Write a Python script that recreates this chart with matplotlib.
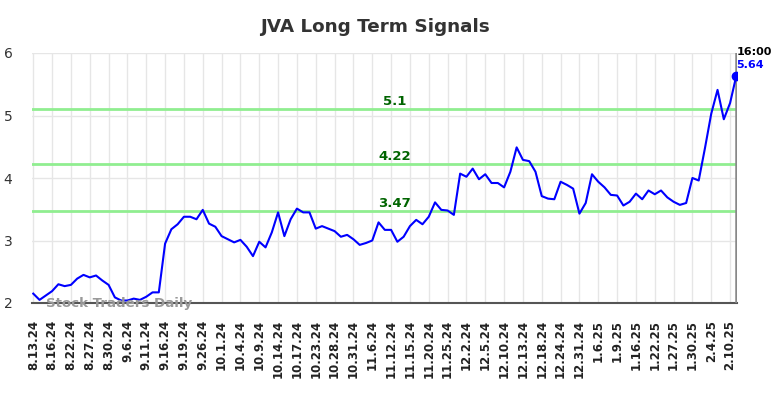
import matplotlib
matplotlib.use("Agg")
import matplotlib.pyplot as plt
import numpy as np

# valores (un punto por sesion)
prices = [
    2.15, 2.05, 2.12, 2.19, 2.30, 2.27, 2.29, 2.39, 2.45, 2.41,
    2.44, 2.36, 2.29, 2.09, 2.04, 2.04, 2.07, 2.05, 2.10, 2.17,
    2.17, 2.95, 3.18, 3.26, 3.38, 3.38, 3.34, 3.49, 3.27, 3.22,
    3.07, 3.02, 2.97, 3.01, 2.90, 2.75, 2.98, 2.89, 3.13, 3.45,
    3.07, 3.34, 3.51, 3.45, 3.45, 3.19, 3.23, 3.19, 3.15, 3.06,
    3.09, 3.02, 2.93, 2.96, 3.00, 3.29, 3.17, 3.17, 2.98, 3.06,
    3.23, 3.33, 3.26, 3.38, 3.61, 3.49, 3.48, 3.41, 4.07, 4.02,
    4.15, 3.98, 4.06, 3.92, 3.92, 3.85, 4.10, 4.49, 4.29, 4.27,
    4.10, 3.71, 3.67, 3.66, 3.94, 3.89, 3.83, 3.43, 3.60, 4.06,
    3.94, 3.85, 3.73, 3.72, 3.56, 3.62, 3.75, 3.66, 3.80, 3.74,
    3.80, 3.69, 3.62, 3.57, 3.60, 4.00, 3.96, 4.48, 5.03, 5.41,
    4.94, 5.20, 5.64,
]

tick_labels = [
    "8.13.24", "8.16.24", "8.22.24", "8.27.24", "8.30.24", "9.6.24", "9.11.24",
    "9.16.24", "9.19.24", "9.26.24", "10.1.24", "10.4.24", "10.9.24", "10.14.24",
    "10.17.24", "10.23.24", "10.28.24", "10.31.24", "11.6.24", "11.12.24",
    "11.15.24", "11.20.24", "11.25.24", "12.2.24", "12.5.24", "12.10.24",
    "12.13.24", "12.18.24", "12.24.24", "12.31.24", "1.6.25", "1.9.25",
    "1.16.25", "1.22.25", "1.27.25", "1.30.25", "2.4.25", "2.10.25",
]

signals = [5.1, 4.22, 3.47]
signal_labels = ["5.1", "4.22", "3.47"]

x = np.arange(len(prices))
tick_pos = x[::3][:len(tick_labels)]

fig = plt.figure(figsize=(7.84, 3.98), dpi=100)
ax = fig.add_axes([32 / 784, 1 - 303 / 398, (737 - 32) / 784, 250 / 398])

for lvl, lab in zip(signals, signal_labels):
    ax.axhline(lvl, color="#90ee90", lw=2, zorder=2)
    ax.text(57.6, lvl + 0.02, lab, color="#006400", fontsize=9.5,
            fontweight="bold", ha="center", va="bottom", zorder=5)

ax.plot(x, prices, color="#0000ff", lw=1.5, zorder=4)
ax.plot(x[-1], prices[-1], "o", color="#0000ff", ms=6, zorder=5)
ax.axvline(x[-1], color="#888888", lw=1.8, zorder=3)

ax.text(x[-1], 5.94, "16:00", fontsize=8, fontweight="bold", color="black",
        ha="left", va="bottom", clip_on=False)
ax.text(x[-1], 5.72, "5.64", fontsize=8, fontweight="bold", color="#0000ff",
        ha="left", va="bottom", clip_on=False)

ax.text(2, 2.0, "Stock Traders Daily", fontsize=9.6, fontweight="bold",
        color="#999999", ha="left", va="center", zorder=6)

ax.set_xlim(-0.2, 112.1)
ax.set_ylim(2, 6)
ax.set_yticks([2, 3, 4, 5, 6])
ax.set_xticks(tick_pos)
ax.set_xticklabels(tick_labels, rotation=90, fontsize=8.5, fontweight="bold",
                   color="#222222")
ax.tick_params(axis="both", length=0)
ax.tick_params(axis="y", labelsize=10, colors="#333333", pad=14)
ax.tick_params(axis="x", pad=12)
ax.grid(True, color="#e6e6e6", lw=1)
ax.set_axisbelow(True)

for side in ["top", "right", "left"]:
    ax.spines[side].set_visible(False)
ax.spines["bottom"].set_color("#555555")
ax.spines["bottom"].set_linewidth(1.5)

fig.text(375 / 784, 1 - 27 / 398, "JVA Long Term Signals", fontsize=13.2,
         fontweight="bold", color="#333333", ha="center", va="center")

fig.savefig("out.png", dpi=100)
